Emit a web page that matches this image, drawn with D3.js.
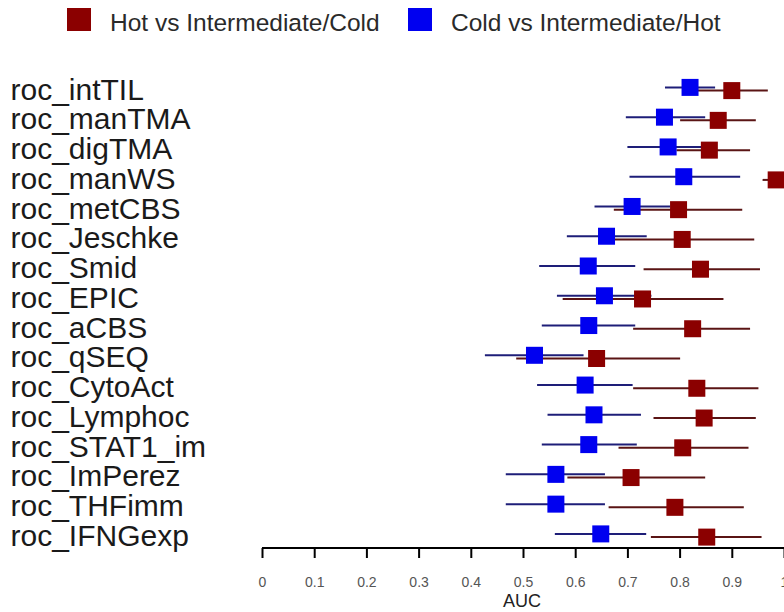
<!DOCTYPE html>
<html>
<head>
<meta charset="utf-8">
<script src="https://cdn.jsdelivr.net/npm/d3@7/dist/d3.min.js"></script>
<style>
  html, body { margin: 0; padding: 0; background: #fff; }
  svg { display: block; }
  text { font-family: "Liberation Sans", Arial, Helvetica, sans-serif; }
</style>
</head>
<body>
<svg id="chart" width="784" height="612"></svg>
<script>
// Signature names, top to bottom
const signatures = [
  "roc_intTIL", "roc_manTMA", "roc_digTMA", "roc_manWS", "roc_metCBS",
  "roc_Jeschke", "roc_Smid", "roc_EPIC", "roc_aCBS", "roc_qSEQ",
  "roc_CytoAct", "roc_Lymphoc", "roc_STAT1_im", "roc_ImPerez",
  "roc_THFimm", "roc_IFNGexp"
];

// Hot vs Intermediate/Cold: AUC with 95% CI
const hotAUC = [0.900, 0.874, 0.857, 0.985, 0.798, 0.805, 0.840, 0.729, 0.825, 0.641, 0.833, 0.847, 0.806, 0.707, 0.791, 0.852];
const hotLo  = [0.833, 0.801, 0.794, 0.959, 0.674, 0.676, 0.731, 0.576, 0.711, 0.487, 0.711, 0.750, 0.683, 0.585, 0.664, 0.745];
const hotHi  = [0.969, 0.946, 0.935, 1.000, 0.920, 0.943, 0.954, 0.884, 0.935, 0.801, 0.951, 0.946, 0.932, 0.849, 0.923, 0.957];

// Cold vs Intermediate/Hot: AUC with 95% CI
const coldAUC = [0.820, 0.771, 0.778, 0.808, 0.709, 0.660, 0.625, 0.656, 0.626, 0.522, 0.619, 0.636, 0.626, 0.563, 0.563, 0.649];
const coldLo  = [0.772, 0.697, 0.700, 0.704, 0.637, 0.584, 0.531, 0.565, 0.536, 0.427, 0.527, 0.547, 0.536, 0.467, 0.467, 0.561];
const coldHi  = [0.868, 0.849, 0.845, 0.916, 0.782, 0.737, 0.715, 0.746, 0.715, 0.616, 0.710, 0.726, 0.718, 0.657, 0.657, 0.736];

const xTicks = [0, 0.1, 0.2, 0.3, 0.4, 0.5, 0.6, 0.7, 0.8, 0.9, 1];
const xTickLabels = ["0", "0.1", "0.2", "0.3", "0.4", "0.5", "0.6", "0.7", "0.8", "0.9", "1"];

const series = [
  { name: "Hot vs Intermediate/Cold", auc: hotAUC, lo: hotLo, hi: hotHi,
    fill: "#8b0000", line: "#5a1414", dy: 1.6 },
  { name: "Cold vs Intermediate/Hot", auc: coldAUC, lo: coldLo, hi: coldHi,
    fill: "#0000f0", line: "#1e1e78", dy: -1.6 }
];

const svg = d3.select("#chart");

const x = d3.scaleLinear().domain([0, 1]).range([262, 784]);
const y = d3.scalePoint().domain(signatures).range([89, 535.5]);

// Row labels
svg.append("g")
  .selectAll("text")
  .data(signatures)
  .join("text")
  .attr("x", 10.5)
  .attr("y", d => y(d) + 10.5)
  .attr("font-size", 30)
  .attr("fill", "#1a1a1a")
  .text(d => d);

// Confidence intervals first, then the point estimates on top
const plot = svg.append("g");
series.forEach(s => {
  plot.append("g")
    .selectAll("line")
    .data(signatures)
    .join("line")
    .attr("x1", (d, i) => x(s.lo[i]))
    .attr("x2", (d, i) => x(s.hi[i]))
    .attr("y1", d => y(d) + s.dy)
    .attr("y2", d => y(d) + s.dy)
    .attr("stroke", s.line)
    .attr("stroke-width", 2);
});
const sq = 17;
series.forEach(s => {
  plot.append("g")
    .selectAll("rect")
    .data(signatures)
    .join("rect")
    .attr("x", (d, i) => x(s.auc[i]) - sq / 2)
    .attr("y", d => y(d) + s.dy - sq / 2)
    .attr("width", sq)
    .attr("height", sq)
    .attr("fill", s.fill);
});

// AUC axis
const axisY = 548;
const axis = d3.axisBottom(x)
  .tickValues(xTicks)
  .tickFormat((d, i) => xTickLabels[i])
  .tickSize(10)
  .tickPadding(19);
const ax = svg.append("g")
  .attr("transform", `translate(0,${axisY})`)
  .call(axis);
ax.select(".domain")
  .attr("d", `M${x(0)},0H${x(1)}`)
  .attr("stroke", "#000")
  .attr("stroke-width", 2);
ax.selectAll(".tick line").attr("stroke", "#000").attr("stroke-width", 2);
ax.selectAll(".tick text")
  .attr("font-size", 14)
  .attr("fill", "#555")
  .attr("font-family", "\"Liberation Sans\", Arial, sans-serif");

svg.append("text")
  .attr("x", x(0.5) - 1)
  .attr("y", 607)
  .attr("text-anchor", "middle")
  .attr("font-size", 18)
  .attr("fill", "#222")
  .text("AUC");

// Legend
const legendX = [67, 408];
const legend = svg.append("g");
series.forEach((s, i) => {
  legend.append("rect")
    .attr("x", legendX[i])
    .attr("y", 8)
    .attr("width", 24)
    .attr("height", 23)
    .attr("fill", s.fill);
  legend.append("text")
    .attr("x", legendX[i] + 43)
    .attr("y", 31)
    .attr("font-size", 24.5)
    .attr("fill", "#2a2a2a")
    .text(s.name);
});
</script>
</body>
</html>
